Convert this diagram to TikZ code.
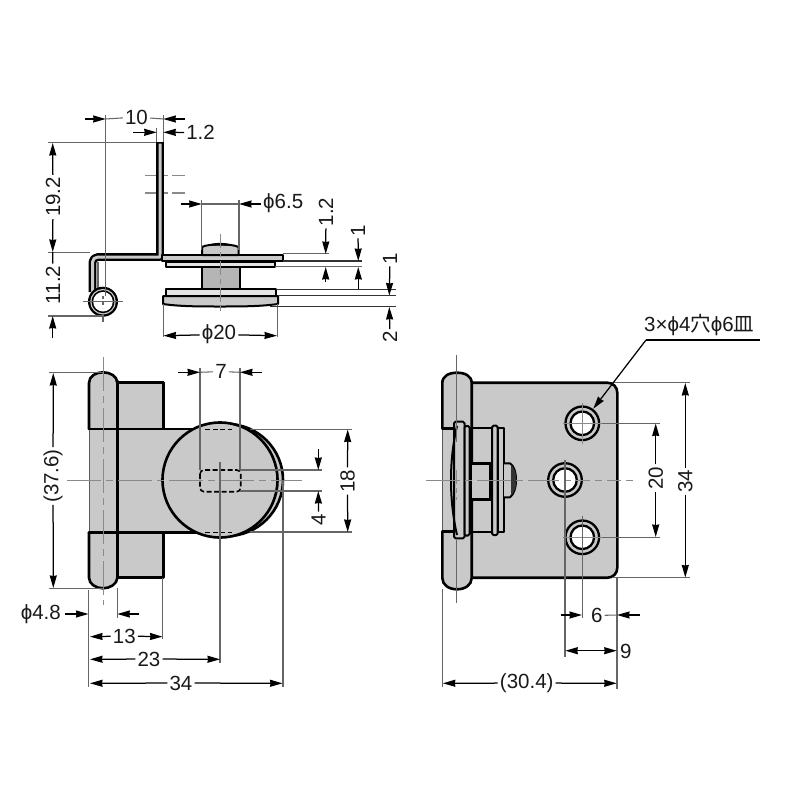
\documentclass[tikz,border=0pt]{standalone}
\usepackage{fontspec}
\setmainfont{Liberation Sans}
\newfontfamily\cjkfont{Noto Sans CJK JP}
\usetikzlibrary{arrows.meta}
\definecolor{part}{HTML}{C9C9C9}
\definecolor{partl}{HTML}{E4E4E4}
\definecolor{extc}{HTML}{666666}
\definecolor{cent}{HTML}{8A8A8A}
\tikzset{
  ext/.style={draw=extc,line width=1.05pt},
  darkext/.style={draw=black!80,line width=1.2pt},
  cl/.style={draw=cent,line width=1pt,dash pattern=on 34pt off 5pt on 7pt off 5pt},
  dashc/.style={draw=cent,line width=1.1pt,dash pattern=on 14pt off 4pt on 5pt off 4pt},
  dimline/.style={draw=black,line width=1.25pt},
  arr/.style={dimline,-{Stealth[length=12.5pt,width=7pt,inset=0.5pt]}},
  thk/.style={draw=black,line width=2.6pt,line join=round,line cap=round},
  med/.style={draw=black,line width=2pt,line join=round},
  pf/.style={fill=part},
  hid/.style={draw=black,line width=1.6pt,dash pattern=on 5pt off 2.5pt},
  lab/.style={font=\fontsize{20.5}{20.5}\selectfont,inner sep=2pt,text=black!90},
  rlab/.style={lab,rotate=90}
}
\newcommand{\holeat}[2]{%
  \fill[part] (#1,#2) circle (17);
  \draw[line width=2.3pt] (#1,#2) circle (16.8);
  \draw[line width=2.3pt,fill=white] (#1,#2) circle (11.8);
}
\newcommand{\phichar}{ϕ}
\begin{document}
\begin{tikzpicture}[x=1pt,y=-1pt]
\useasboundingbox (0,0) rectangle (800,800);
\fill[white] (0,0) rectangle (800,800);

%% ===== TOP VIEW =====
% dashed hole lines
\draw[dashc] (145,175.7) -- (185,175.7);
\draw[dashc] (145,193) -- (185,193);
% bent strip
\draw[line width=7.8pt,line join=round] (160,142) -- (160,257) -- (98,257) to[out=180,in=90] (92.5,262) -- (92.5,292);
\draw[line width=3pt,part,line join=round] (160,143.5) -- (160,257) -- (98,257) to[out=180,in=90] (92.5,262) -- (92.5,292);
\draw[line width=1.2pt,draw=extc] (98,262) -- (98,292);
% pin ring
\fill (103,301.7) circle (15);
\fill[part] (103,301.7) circle (12.8);
\fill (103,301.7) circle (11.5);
\fill[white] (103,301.7) circle (9.8);
\draw[ext] (82.7,301.7) -- (123,301.7);
\draw[ext] (103,314) -- (103,321.7);
\draw[ext,dash pattern=on 3pt off 3pt] (103,296) -- (103,308);
% upper plates
\draw[med,pf] (162,255) -- (283,255) -- (283,261) -- (162,261) -- cycle;
\draw[med,fill=partl] (165.5,261.5) rectangle (275,266.7);
% cap
\draw[med,pf] (202,255) -- (202,247) .. controls (208,243.5) and (232,243.5) .. (238.5,247) -- (238.5,255) -- cycle;
\fill (207,245.5) .. controls (214,242) and (226,242) .. (234,245.5) -- cycle;
% shaft
\draw[med,fill=part!90!black] (201.5,267) rectangle (239.5,289);
% lower disc
\draw[med,fill=partl] (165.7,289.3) rectangle (276,295.7);
\draw[med,pf] (163,296) -- (278,296) -- (278,304) .. controls (260,306.5) and (240,306.5) .. (220,306.5) .. controls (200,306.5) and (180,306.5) .. (163,304) -- cycle;
% centre
\draw[dashc] (220.7,234) -- (220.7,314);

% dim 10 / 1.2
\node[lab] (t10) at (136.5,117) {10};
\draw[ext] (105.7,115) -- (105.7,296);
\draw[ext] (163.3,115) -- (163.3,142);
\draw[ext] (156.7,128) -- (156.7,142);
\draw[ext] (t10) -- (105.7,119);
\draw[ext] (t10) -- (163.3,119);
\draw[arr] (85,119) -- (105.7,119);
\draw[arr] (185,119) -- (163.3,119);
\node[lab] (t12a) at (200.5,132.5) {1.2};
\draw[arr] (133,132.3) -- (156.7,132.3);
\draw[arr] (t12a) -- (163.3,132.3);
% dim 19.2 / 11.2
\draw[ext] (48,142.3) -- (156,142.3);
\draw[ext] (48,252.3) -- (90,252.3);
\draw[ext] (48,316) -- (103,316);
\node[rlab] (t192) at (53,197) {19.2};
\node[rlab] (t112) at (53,285) {11.2};
\draw[arr] (t192) -- (52.7,143);
\draw[arr] (t192) -- (52.7,252);
\draw[dimline] (52.7,252) -- (t112);
\draw[arr] (52.7,338) -- (52.7,316);
% phi 6.5
\node[lab,anchor=west] (t65) at (261,203) {\phichar 6.5};
\draw[ext] (201.7,200) -- (201.7,250);
\draw[ext] (239,200) -- (239,250);
\draw[ext] (201.7,204) -- (239,204);
\draw[arr] (180.7,204) -- (201.7,204);
\draw[arr] (261,204) -- (239,204);
% phi 20
\node[lab] (t20) at (219,334.5) {\phichar 20};
\draw[ext] (163.3,304) -- (163.3,337);
\draw[ext] (277.3,304) -- (277.3,337);
\draw[arr] (t20) -- (163.5,335.7);
\draw[arr] (t20) -- (277,335.7);
% right stack extensions
\draw[ext] (283,253.5) -- (329,253.5);
\draw[darkext] (283,261) -- (362,261);
\draw[ext] (275,266.7) -- (362,266.7);
\draw[darkext] (276,289.2) -- (396,289.2);
\draw[darkext] (278,295.7) -- (396,295.7);
\draw[darkext] (270,306.7) -- (396,306.7);
% dim 1.2 vertical
\node[rlab] (t12b) at (326,212) {1.2};
\draw[arr] (t12b) -- (325.7,254);
\draw[arr] (325.7,282) -- (325.7,267);
\node[rlab] (t1a) at (358,230.5) {1};
\draw[arr] (t1a) -- (358.3,261);
\draw[arr] (358.3,289) -- (358.3,267);
\node[rlab] (t1b) at (390,258.5) {1};
\draw[arr] (t1b) -- (389.3,295.5);
\node[rlab] (t2) at (390,337) {2};
\draw[arr] (t2) -- (389.3,307);

%% ===== FRONT VIEW =====
\fill[part] (117.3,382.7) rectangle (163.3,577.7);
\draw[thk] (117.3,382.7) -- (163.3,382.7) -- (163.3,429);
\draw[thk] (163.3,532.3) -- (163.3,577.7) -- (117.3,577.7);
\fill[part] (89,429) rectangle (215,532.3);
\fill[part] (89,383) .. controls (89,376) and (96,372.3) .. (103,372.3) .. controls (110,372.3) and (117.3,376) .. (117.3,383) -- (117.3,577.7) .. controls (117.3,584) and (110,588.3) .. (103,588.3) .. controls (96,588.3) and (89,584) .. (89,577.7) -- cycle;
\draw[thk] (89,429) -- (89,383) .. controls (89,376) and (96,372.3) .. (103,372.3) .. controls (110,372.3) and (117.3,376) .. (117.3,383);
\draw[thk] (89,532.3) -- (89,577.7) .. controls (89,584) and (96,588.3) .. (103,588.3) .. controls (110,588.3) and (117.3,584) .. (117.3,577.7);
\draw[thk] (117.3,381) -- (117.3,578);
\draw[line width=1pt,draw=black!65] (89,429) -- (89,532.3);
\draw[thk] (89,429) -- (200,429);
\draw[thk] (89,532.3) -- (200,532.3);
\draw[cl] (103,357) -- (103,605);
% discs
\draw[thk,pf] (227,480) circle (56);
\draw[thk,pf] (220,480) circle (57.5);
\draw[hid] (205,429.3) -- (232,429.3);
\draw[hid] (205,532.3) -- (232,532.3);
\draw[hid,rounded corners=4pt] (200,470) rectangle (240.7,491.7);
\draw[cl] (67,480) -- (302,480);
% extension lines front
\draw[ext] (220,462) -- (220,663);
\draw[ext] (283,480) -- (283,687);
\draw[ext] (162.7,578) -- (162.7,639.3);
\draw[ext] (88.5,590) -- (88.5,687);
\draw[ext] (117.3,588) -- (117.3,617.7);
\draw[ext] (200,368) -- (200,470);
\draw[ext] (240,368) -- (240,470);
\draw[ext] (250,429.3) -- (352,429.3);
\draw[ext] (250,532) -- (352,532);
\draw[ext] (240,470) -- (322,470);
\draw[ext] (240,491) -- (322,491);
\draw[ext] (49,372.7) -- (103,372.7);
\draw[ext] (49,588.3) -- (103,588.3);
% labels front
\node[rlab] (t376) at (53,476) {(37.6)};
\draw[arr] (t376) -- (53.3,373);
\draw[arr] (t376) -- (53.3,588);
\node[lab] (t7) at (221,371.5) {7};
\draw[ext] (t7) -- (200,372.3);
\draw[ext] (t7) -- (240,372.3);
\draw[arr] (178,372.3) -- (200,372.3);
\draw[arr] (262,372.3) -- (240,372.3);
\node[rlab] (t18) at (347.5,481) {18};
\draw[arr] (t18) -- (347.7,429.5);
\draw[arr] (t18) -- (347.7,532);
\node[rlab] (t4) at (318.5,519.5) {4};
\draw[arr] (318.3,449) -- (318.3,470);
\draw[arr] (t4) -- (318.3,491);
\node[lab,anchor=east,inner sep=0pt] (t48) at (61,614.5) {\phichar 4.8};
\draw[arr] (65,614) -- (88.5,614);
\draw[arr] (139.3,614) -- (117.3,614);
\node[lab] (t13) at (124.3,636) {13};
\draw[arr] (t13) -- (90,636.7);
\draw[arr] (t13) -- (162.5,636.7);
\node[lab] (t23) at (149,659) {23};
\draw[arr] (t23) -- (90,659.3);
\draw[arr] (t23) -- (220,659.3);
\node[lab] (t34) at (181,683) {34};
\draw[arr] (t34) -- (90,683.3);
\draw[arr] (t34) -- (282.5,683.3);

%% ===== SIDE VIEW =====
% plate
\fill[part] (471.7,382.7) -- (607.3,382.7) .. controls (613,382.7) and (617.3,387) .. (617.3,392.7) -- (617.3,567.7) .. controls (617.3,573.5) and (613,577.7) .. (607.3,577.7) -- (471.7,577.7) -- cycle;
\draw[thk] (471.7,382.7) -- (607.3,382.7) .. controls (613,382.7) and (617.3,387) .. (617.3,392.7) -- (617.3,567.7) .. controls (617.3,573.5) and (613,577.7) .. (607.3,577.7) -- (471.7,577.7);
% barrel
\fill[part] (442.3,383) .. controls (442.3,376) and (449,372.7) .. (457,372.7) .. controls (465,372.7) and (471.7,376) .. (471.7,383) -- (471.7,578) .. controls (471.7,585) and (465,589.3) .. (457,589.3) .. controls (449,589.3) and (442.3,585) .. (442.3,578) -- cycle;
\draw[thk] (442.3,428.3) -- (442.3,383) .. controls (442.3,376) and (449,372.7) .. (457,372.7) .. controls (465,372.7) and (471.7,376) .. (471.7,383) -- (471.7,578) .. controls (471.7,585) and (465,589.3) .. (457,589.3) .. controls (449,589.3) and (442.3,585) .. (442.3,578) -- (442.3,531.7);
\draw[line width=1pt,draw=black!65] (442.3,428.3) -- (442.3,531.7);
\draw[thk] (442.3,428.3) -- (454,428.3);
\draw[thk] (442.3,531.7) -- (454,531.7);
% hinge shaft part
\draw[med] (470,428.3) -- (492,428.3);
\draw[med] (470,531.7) -- (492,531.7);
\draw[thk,pf] (470.5,463.3) rectangle (490.5,499.5);
\draw[line width=3.2pt] (490.7,462) -- (490.7,500.5);
% lower disc side
\draw[med,pf,rounded corners=1.5pt] (454,421.7) rectangle (464.5,538.3);
\draw[med,pf,rounded corners=1.5pt] (464.5,426) rectangle (469.5,535.5);
\draw[line width=2pt] (457,426) .. controls (449,460) and (449,500) .. (457,535);
\draw[line width=3pt] (470.5,427) -- (470.5,534);
% upper disc side
\draw[med,pf,rounded corners=1.5pt] (492,425.7) rectangle (497.7,535);
\draw[med,pf] (497.7,428.3) rectangle (504,531.7);
% cap side
\draw[med,pf] (504,463.3) -- (510,463.3) .. controls (514,466) and (516,472) .. (516,480) .. controls (516,488) and (514,494) .. (510,497.3) -- (504,497.3);
\fill[black!80] (511,465) .. controls (514.5,468) and (516.3,473) .. (516.3,480) .. controls (516.3,487) and (514.5,492) .. (511,495.5) -- cycle;
% centre lines
\draw[cl] (426,480) -- (548,480);
\draw[ext] (456.8,355) -- (456.8,442);
\draw[dashc] (456.8,470) -- (456.8,500);
\draw[ext] (456.8,540) -- (456.8,603);
% holes
\holeat{582.3}{423.3}
\holeat{565}{480}
\holeat{582.3}{537.3}
\draw[cent,line width=0.9pt] (582.3,402.7) -- (582.3,444);
\draw[cent,line width=0.9pt] (562.5,423.3) -- (602,423.3);
\draw[cent,line width=0.9pt] (562.5,537.3) -- (602,537.3);
\draw[ext] (582.3,516) -- (582.3,618);
\draw[cent,line width=0.9pt,dash pattern=on 14pt off 5pt on 7pt off 5pt] (545,480) -- (633,480);
\draw[ext] (565,460) -- (565,657);
% extension lines
\draw[ext] (442.3,589) -- (442.3,687);
\draw[ext] (617,578) -- (617,689);
\draw[ext] (602,423.3) -- (660,423.3);
\draw[ext] (602,537.3) -- (660,537.3);
\draw[ext] (612,382.7) -- (690,382.7);
\draw[ext] (612,577.7) -- (690,577.7);
% leader
\node[lab,anchor=south west,inner sep=1pt] (thole) at (643,337) {3×\phichar 4{\cjkfont 穴}\phichar 6{\cjkfont 皿}};
\coordinate (shelfL) at (646,340);
\draw[dimline,line width=1.5pt] (shelfL) -- (760,340);
\draw[arr] (shelfL) -- (593.3,408.7);
% dims
\node[rlab] (t20b) at (655.7,478) {20};
\draw[arr] (t20b) -- (655.7,423.5);
\draw[arr] (t20b) -- (655.7,537);
\node[rlab] (t34b) at (685.3,481.5) {34};
\draw[arr] (t34b) -- (685.3,383);
\draw[arr] (t34b) -- (685.3,577.5);
\node[lab] (t6) at (596.7,615.5) {6};
\draw[ext] (t6) -- (617,615);
\draw[arr] (560.7,615) -- (582,615);
\draw[arr] (640,615) -- (617,615);
\node[lab] (t9) at (625.7,651.5) {9};
\draw[arr] (590,650.7) -- (565.3,650.7);
\draw[arr] (590,650.7) -- (616.7,650.7);
\node[lab] (t304) at (526.7,683) {(30.4)};
\draw[arr] (t304) -- (442.8,683.3);
\draw[arr] (t304) -- (616.7,683.3);
\end{tikzpicture}
\end{document}
